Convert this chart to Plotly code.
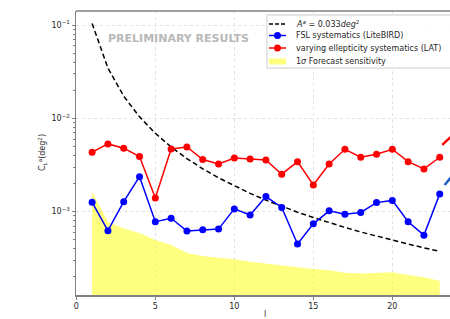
import plotly.graph_objects as go

# multipole l
ell = list(range(1, 24))

# A^a = 0.033 deg^2 model curve
model = [0.1037, 0.03456, 0.01728, 0.01037, 0.006912, 0.004937, 0.003703, 0.00288,
         0.002304, 0.001885, 0.001571, 0.001329, 0.001139, 0.000987, 0.000864,
         0.000762, 0.000678, 0.000606, 0.000546, 0.000494, 0.000449, 0.00041, 0.000376]

# FSL systematics (LiteBIRD)
fsl = [1.26e-3, 6.25e-4, 1.28e-3, 2.37e-3, 7.8e-4, 8.5e-4, 6.2e-4, 6.4e-4, 6.5e-4,
       1.07e-3, 9.2e-4, 1.45e-3, 1.11e-3, 4.5e-4, 7.4e-4, 1.02e-3, 9.4e-4, 9.8e-4,
       1.25e-3, 1.32e-3, 7.8e-4, 5.6e-4, 1.55e-3]

# varying ellipticity systematics (LAT)
lat = [4.34e-3, 5.32e-3, 4.79e-3, 3.89e-3, 1.4e-3, 4.70e-3, 4.94e-3, 3.62e-3, 3.24e-3,
       3.76e-3, 3.67e-3, 3.58e-3, 2.52e-3, 3.43e-3, 1.93e-3, 3.24e-3, 4.66e-3, 3.83e-3,
       4.12e-3, 4.66e-3, 3.43e-3, 2.87e-3, 3.83e-3]

# 1 sigma forecast sensitivity
sens = [1.64e-3, 7.8e-4, 6.6e-4, 5.9e-4, 4.97e-4, 4.4e-4, 3.6e-4, 3.35e-4, 3.2e-4,
        3.1e-4, 2.9e-4, 2.77e-4, 2.62e-4, 2.54e-4, 2.43e-4, 2.36e-4, 2.22e-4, 2.18e-4,
        2.22e-4, 2.24e-4, 2.10e-4, 1.98e-4, 1.82e-4]

# fragments cut off at the right edge of the picture
edge_red_x = [23.16, 23.9]
edge_red_y = [5.2e-3, 6.8e-3]
edge_blue_x = [23.31, 23.9]
edge_blue_y = [1.93e-3, 2.55e-3]

legend_labels = ["<i>A<sup>a</sup></i> = 0.033<i>deg</i><sup>2</sup>",
                 "FSL systematics (LiteBIRD)",
                 "varying ellepticity systematics (LAT)",
                 "1<i>σ</i> Forecast sensitivity"]

xticks = [0, 5, 10, 15, 20]
yticks = [1e-3, 1e-2, 1e-1]
yticktext = ["10<sup>−3</sup>", "10<sup>−2</sup>", "10<sup>−1</sup>"]
yminor = [m * 10.0 ** e for e in (-4, -3, -2) for m in range(2, 10)]

FONT = "DejaVu Sans"
TXT = "#262626"
L, T, B, W, H = 76, 11, 24, 450, 319
PW, PH = W - L, H - T - B


def px(x):
    return (x - L) / PW


def py(y):
    return (H - B - y) / PH


fig = go.Figure()
fig.add_trace(go.Scatter(x=ell, y=sens, mode="lines", fill="tozeroy",
                         line=dict(width=0, color="rgba(255,255,0,0)"),
                         fillcolor="rgba(255,255,0,0.5)", name=legend_labels[3]))
fig.add_trace(go.Scatter(x=ell, y=model, mode="lines",
                         line=dict(color="black", width=1.5, dash="5px,3px"),
                         name=legend_labels[0]))
fig.add_trace(go.Scatter(x=ell, y=fsl, mode="lines+markers",
                         line=dict(color="blue", width=1.5),
                         marker=dict(color="blue", size=7), name=legend_labels[1]))
fig.add_trace(go.Scatter(x=ell, y=lat, mode="lines+markers",
                         line=dict(color="red", width=1.5),
                         marker=dict(color="red", size=7), name=legend_labels[2]))
fig.add_trace(go.Scatter(x=edge_red_x, y=edge_red_y, mode="lines",
                         line=dict(color="red", width=2.5)))
fig.add_trace(go.Scatter(x=edge_blue_x, y=edge_blue_y, mode="lines",
                         line=dict(color="#1f5fc8", width=2.5)))

shapes = [dict(type="line", xref="paper", yref="paper", x0=0, x1=1, y0=1, y1=1,
               line=dict(color="#808080", width=1.5))]
annotations = [
    dict(text="<b>PRELIMINARY RESULTS</b>", xref="paper", yref="paper",
         x=px(178), y=py(38), xanchor="center", yanchor="middle", showarrow=False,
         font=dict(family=FONT, size=11, color="#b8b8b8")),
    dict(text="C<sub>L</sub><sup>a</sup>(deg<sup>2</sup>)", xref="paper", yref="paper",
         x=px(42), y=py(153), xanchor="center", yanchor="middle", textangle=-90,
         showarrow=False, font=dict(family=FONT, size=8, color=TXT)),
    dict(text="l", xref="paper", yref="paper", x=px(265), y=py(314),
         xanchor="center", yanchor="middle",
         showarrow=False, font=dict(family=FONT, size=8, color=TXT)),
]

# hand-drawn legend (matplotlib style)
shapes.append(dict(type="rect", xref="paper", yref="paper",
                   x0=px(267), x1=px(460), y0=py(68), y1=py(15),
                   fillcolor="rgba(255,255,255,0.85)",
                   line=dict(color="#cccccc", width=1)))
rows = [24, 35.5, 48, 61.5]
hx0, hx1, hxc = 269, 286, 277.5
shapes.append(dict(type="line", xref="paper", yref="paper", x0=px(hx0), x1=px(hx1),
                   y0=py(rows[0]), y1=py(rows[0]),
                   line=dict(color="black", width=1.5, dash="4px,2px")))
for r, c in ((rows[1], "blue"), (rows[2], "red")):
    shapes.append(dict(type="line", xref="paper", yref="paper", x0=px(hx0), x1=px(hx1),
                       y0=py(r), y1=py(r), line=dict(color=c, width=1.5)))
    shapes.append(dict(type="circle", xref="paper", yref="paper",
                       xsizemode="pixel", ysizemode="pixel",
                       xanchor=px(hxc), yanchor=py(r), x0=-3.5, x1=3.5, y0=-3.5, y1=3.5,
                       fillcolor=c, line=dict(color=c, width=0)))
shapes.append(dict(type="rect", xref="paper", yref="paper", x0=px(hx0), x1=px(hx1),
                   y0=py(rows[3] + 3), y1=py(rows[3] - 3),
                   fillcolor="rgba(255,255,0,0.5)", line=dict(width=0)))
for r, lab in zip(rows, legend_labels):
    annotations.append(dict(text=lab, xref="paper", yref="paper", x=px(294), y=py(r),
                            xanchor="left", yanchor="middle", showarrow=False,
                            font=dict(family=FONT, size=8, color=TXT)))

fig.update_layout(
    width=W, height=H,
    margin=dict(l=L, r=0, t=T, b=B),
    paper_bgcolor="white", plot_bgcolor="white",
    font=dict(family=FONT, size=8, color=TXT),
    showlegend=False,
    hovermode=False,
    xaxis=dict(range=[-0.02, 23.65], tickvals=xticks, ticks="outside", ticklen=3,
               tickcolor="#808080", showline=True, linecolor="#808080", linewidth=1.5,
               showgrid=True, gridcolor="#e2e2e2", griddash="dot", gridwidth=1,
               zeroline=False, automargin=False),
    yaxis=dict(type="log", range=[-3.893, -0.85], tickvals=yticks, ticktext=yticktext,
               ticks="outside", ticklen=3, tickcolor="#808080",
               showline=True, linecolor="#808080", linewidth=1.5,
               showgrid=True, gridcolor="#e2e2e2", griddash="dot", gridwidth=1,
               zeroline=False, automargin=False,
               minor=dict(tickvals=yminor, ticks="outside", ticklen=2,
                          tickcolor="#808080", showgrid=False)),
    shapes=shapes,
    annotations=annotations,
)

fig.write_html("out.html", config={"displayModeBar": False, "staticPlot": True},
               post_script="document.body.style.margin='0';")
